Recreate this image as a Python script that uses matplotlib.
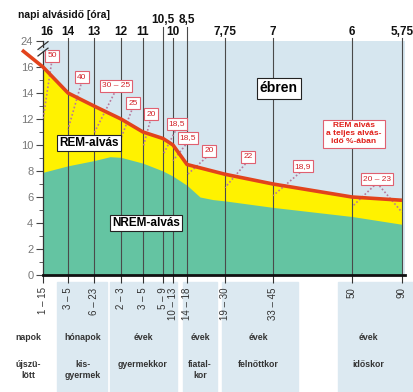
import numpy as np
import matplotlib.pyplot as plt
from matplotlib.patches import Rectangle

plt.rcParams['font.family'] = ['Liberation Sans', 'DejaVu Sans']

# napi alvásidő (óra) az egyes életkoroknál
hour_labels = ['16', '14', '13', '12', '11', '10,5', '10', '8,5', '7,75', '7', '6', '5,75']
total_sleep = [16, 14, 13, 12, 11, 10.5, 10, 8.5, 7.75, 7, 6, 5.75]
age_labels = ['1 – 15', '3 – 5', '6 – 23', '2 – 3', '3 – 5', '5 – 9', '10 – 13',
              '14 – 18', '19 – 30', '33 – 45', '50', '90']
# oszlopok helye a (nem lineáris) életkor-tengelyen
age_pos = [43, 68, 94, 121, 143, 163, 173, 187, 225, 273, 352, 402]

# NREM alvás felső határa
nrem_x = [43, 68, 94, 110, 121, 143, 163, 173, 187, 200, 213, 225, 273, 352, 402]
nrem_top = [7.9, 8.4, 8.8, 9.1, 9.05, 8.6, 8.0, 7.6, 6.9, 6.0, 5.8, 5.7, 5.2, 4.5, 3.9]

# REM alvás a teljes alvásidő %-ában
rem_pct = ['50', '40', '30 – 25', '25', '20', '18,5', '18,5', '20', '22', '18,9', '20 – 23']
rem_cols = [[0], [1], [2], [3], [4], [5], [6], [7], [8], [9], [10, 11]]

groups_top = ['napok', 'hónapok', 'évek', 'évek', 'évek', 'évek']
groups_bottom = ['újszü-\nlött', 'kis-\ngyermek', 'gyermekkor', 'fiatal-\nkor', 'felnőttkor', 'időskor']

# elrendezés (pixelben / adategységben)
pct_boxes = [(52, 16.85), (82, 15.23), (116, 14.54), (133, 13.23), (151, 12.38), (177, 11.62),
             (188, 10.54), (209, 9.54), (248, 9.08), (303, 8.38), (377, 7.38)]
group_x = [28, 83, 143, 200, 258, 368]
panels = [(57, 107), (110, 177), (183, 217), (222, 298), (338, 414)]

W, H = 414, 392
bg = '#d6e6ef'
red = '#e2431c'
yellow = '#fff200'
green = '#64c4a2'

fig = plt.figure(figsize=(W / 100, H / 100), dpi=100)
ax = fig.add_axes([43 / W, 117 / H, (405 - 43) / W, 234 / H])
ax.set_zorder(2)
ax.set_facecolor(bg)
ax.set_xlim(43, 405)
ax.set_ylim(0, 18)

# alsó kék panelek
for x0, x1 in panels:
    fig.patches.append(Rectangle((x0 / W, 0), (x1 - x0) / W, (392 - 282) / H,
                                 transform=fig.transFigure, color='#dce9f1', zorder=0))

ax.fill_between(age_pos, 0, total_sleep, color=yellow, lw=0, zorder=1)
ax.fill_between(nrem_x, 0, nrem_top, color=green, lw=0, zorder=2)

# függőleges vonalak
for i, x in enumerate(age_pos):
    top = 19.1 if hour_labels[i] in ('10,5', '8,5') else 18.25
    if i > 0:
        ax.plot([x, x], [0, top], color='#4a4a4a', lw=0.8, zorder=3, clip_on=False)
    ylab = 19.65 if hour_labels[i] in ('10,5', '8,5') else 18.7
    xl = x + 4 if i == 0 else x
    ax.text(xl, ylab, hour_labels[i], ha='center', va='center', fontsize=8.5,
            fontweight='bold', color='#111')

# teljes alvásidő vonal
ax.plot([22] + age_pos, [17.3] + total_sleep, color=red, lw=2.6, zorder=6,
        clip_on=False, solid_capstyle='butt')

# REM % dobozok
nrem_at = np.interp(age_pos, nrem_x, nrem_top)
for (bx, by), txt, cols in zip(pct_boxes, rem_pct, rem_cols):
    for c in cols:
        ty = (total_sleep[c] + nrem_at[c]) / 2
        ax.plot([bx, age_pos[c]], [by - 0.3, ty], ls=(0, (1, 1.3)), color='#b8789a',
                lw=1.2, zorder=4)
    ax.text(bx, by, txt, ha='center', va='center', fontsize=6, color='#d2232a', zorder=7,
            bbox=dict(boxstyle='square,pad=0.25', fc='white', ec='#e06070', lw=0.8))

ax.text(89, 10.15, 'REM-alvás', ha='center', va='center', fontsize=8.5, fontweight='bold',
        zorder=8, bbox=dict(boxstyle='square,pad=0.2', fc='white', ec='#222', lw=0.8))
ax.text(146, 4.0, 'NREM-alvás', ha='center', va='center', fontsize=8.5, fontweight='bold',
        zorder=8, bbox=dict(boxstyle='square,pad=0.2', fc='white', ec='#222', lw=0.8))
ax.text(279, 14.38, 'ébren', ha='center', va='center', fontsize=10, fontweight='bold',
        zorder=8, bbox=dict(boxstyle='square,pad=0.25', fc='white', ec='#222', lw=0.8))
ax.text(354, 10.85, 'REM alvás\na teljes alvás-\nidő %-ában', ha='center', va='center',
        fontsize=6, fontweight='bold', color='#e0201a', linespacing=1.2, zorder=8,
        bbox=dict(boxstyle='square,pad=0.35', fc='white', ec='#e06070', lw=0.8))

ax.text(18, 20.0, 'napi alvásidő [óra]', ha='left', va='center', fontsize=7.5,
        fontweight='bold', color='#111')

# tengelyek
for s in ('top', 'right'):
    ax.spines[s].set_visible(False)
ax.spines['bottom'].set_linewidth(2)
ax.spines['bottom'].set_color('#111')
ax.spines['bottom'].set_zorder(9)
ax.spines['left'].set_color('#333')
ax.spines['left'].set_linewidth(0.9)

ax.set_yticks(list(range(0, 17, 2)) + [18])
ax.set_yticklabels([str(v) for v in range(0, 17, 2)] + ['24'])
ax.set_yticks(list(range(1, 17, 2)), minor=True)
ax.tick_params(axis='y', which='major', length=5, width=0.8, color='#444',
               labelsize=8, labelcolor='#777', pad=2)
ax.tick_params(axis='y', which='minor', length=3, width=0.6, color='#444')

# tengelytörés jele
for dy in (-0.25, 0.25):
    ax.plot([38, 48], [17.1 + dy, 17.7 + dy], color='#333', lw=0.9, clip_on=False, zorder=10)
ax.plot([40, 46], [17.4, 17.4], color=bg, lw=2.2, clip_on=False, zorder=9)

ax.set_xticks(age_pos)
ax.set_xticklabels(age_labels, rotation=90, fontsize=7, color='#333')
ax.tick_params(axis='x', length=6, width=0.8, color='#333', pad=3)

for gx, t1, t2 in zip(group_x, groups_top, groups_bottom):
    fig.text(gx / W, 1 - 337 / H, t1, ha='center', va='center', fontsize=6.3,
             fontweight='bold', color='#333')
    fig.text(gx / W, 1 - 360 / H, t2, ha='center', va='top', fontsize=6.3,
             fontweight='bold', color='#333', linespacing=1.35)

fig.savefig('out.png', dpi=100)
